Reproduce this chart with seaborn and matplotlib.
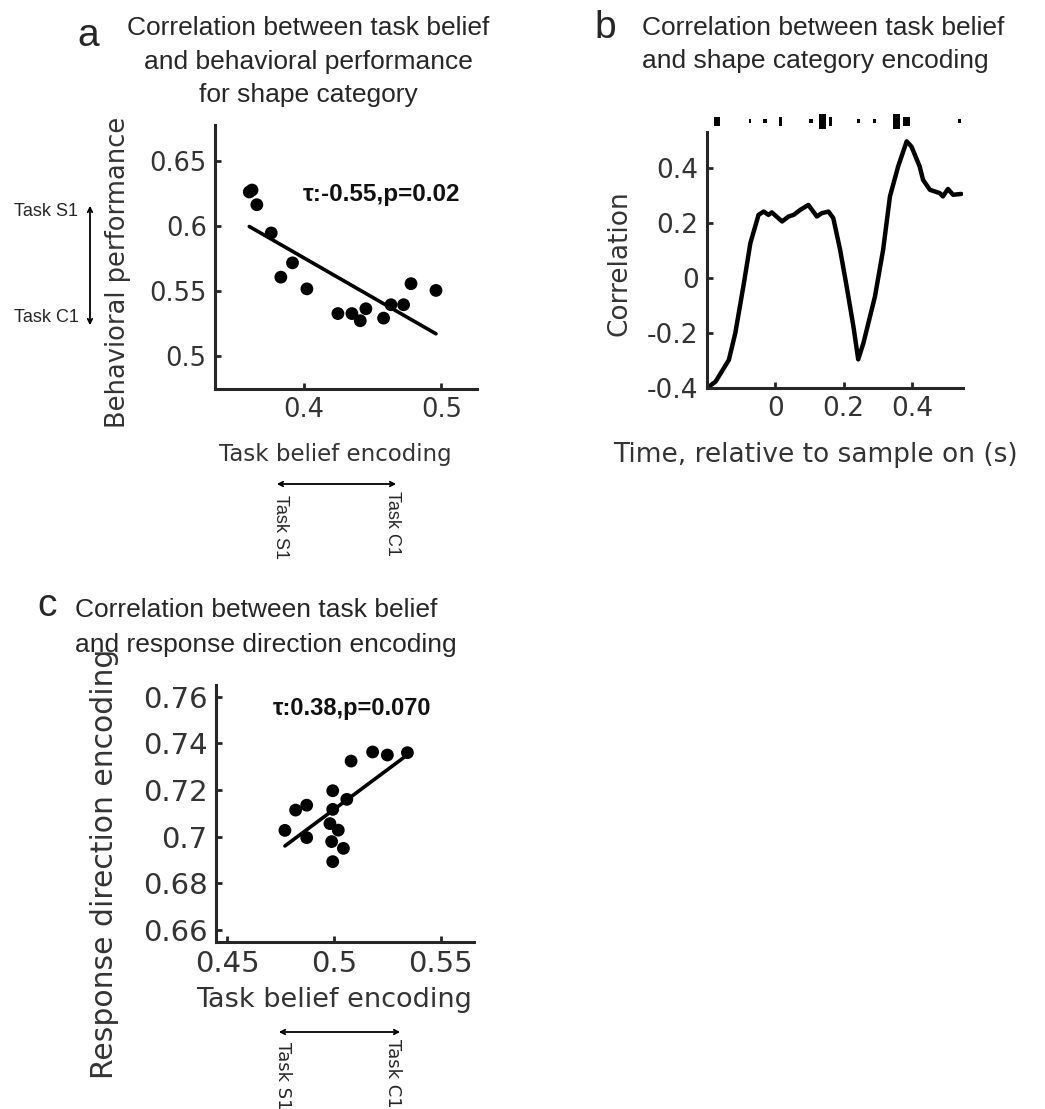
import numpy as np
import pandas as pd
import matplotlib
matplotlib.use("Agg")
import matplotlib.pyplot as plt
import seaborn as sns

# ---------------- data ----------------
# panel a
a_belief = [0.360, 0.362, 0.3655, 0.376, 0.383, 0.3915, 0.402, 0.4246,
            0.4348, 0.4409, 0.445, 0.4579, 0.4633, 0.4725, 0.4779, 0.4961]
a_perf = [0.6265, 0.628, 0.6167, 0.595, 0.561, 0.572, 0.552, 0.533,
          0.533, 0.5275, 0.5367, 0.5295, 0.5398, 0.5398, 0.556, 0.5508]
a_xticks = [0.4, 0.5]
a_xticklabels = ["0.4", "0.5"]
a_yticks = [0.5, 0.55, 0.6, 0.65]
a_yticklabels = ["0.5", "0.55", "0.6", "0.65"]
a_stat = "τ:-0.55,p=0.02"

# panel b
b_time = [-0.200, -0.175, -0.136, -0.117, -0.092, -0.073, -0.049, -0.034, -0.020,
          -0.010, 0.020, 0.039, 0.054, 0.073, 0.097, 0.122, 0.136, 0.156, 0.170,
          0.190, 0.209, 0.229, 0.243, 0.258, 0.292, 0.316, 0.336, 0.360, 0.385,
          0.399, 0.423, 0.433, 0.453, 0.482, 0.491, 0.506, 0.521, 0.545]
b_corr = [-0.400, -0.377, -0.298, -0.200, -0.020, 0.126, 0.229, 0.241, 0.229,
          0.238, 0.205, 0.223, 0.229, 0.247, 0.265, 0.223, 0.235, 0.241, 0.217,
          0.102, -0.030, -0.177, -0.296, -0.238, -0.068, 0.102, 0.296, 0.405, 0.496,
          0.477, 0.405, 0.356, 0.320, 0.308, 0.296, 0.323, 0.302, 0.305]
# significant windows (start, end, level)
sig_start = [-0.180, -0.077, -0.037, 0.012, 0.100, 0.128, 0.156, 0.238, 0.285, 0.345, 0.373, 0.535]
sig_end = [-0.161, -0.071, -0.024, 0.020, 0.110, 0.149, 0.166, 0.248, 0.295, 0.365, 0.396, 0.545]
sig_level = [2, 1, 1, 2, 1, 3, 2, 1, 1, 3, 2, 1]
b_xticks = [0, 0.2, 0.4]
b_xticklabels = ["0", "0.2", "0.4"]
b_yticks = [-0.4, -0.2, 0, 0.2, 0.4]
b_yticklabels = ["-0.4", "-0.2", "0", "0.2", "0.4"]

# panel c
c_belief = [0.4770, 0.482, 0.4872, 0.4872, 0.4994, 0.4994, 0.4981, 0.502,
            0.4989, 0.5044, 0.4994, 0.506, 0.508, 0.5181, 0.525, 0.5344]
c_resp = [0.7027, 0.7114, 0.7135, 0.6996, 0.7197, 0.7117, 0.7056, 0.7028,
          0.6979, 0.695, 0.6893, 0.716, 0.7324, 0.7363, 0.735, 0.736]
c_xticks = [0.45, 0.5, 0.55]
c_xticklabels = ["0.45", "0.5", "0.55"]
c_yticks = [0.66, 0.68, 0.70, 0.72, 0.74, 0.76]
c_yticklabels = ["0.66", "0.68", "0.7", "0.72", "0.74", "0.76"]
c_stat = "τ:0.38,p=0.070"

# ---------------- style ----------------
sns.set_style("ticks")
plt.rcParams['font.family'] = ['DejaVu Sans']
plt.rcParams['axes.unicode_minus'] = False
ARIAL = ['Liberation Sans', 'DejaVu Sans']
AX_COL = '#262626'
TXT_COL = '#333333'

W, H = 1045, 1109
fig = plt.figure(figsize=(W / 100, H / 100), dpi=100)


def axes_px(left, top, right, bottom):
    return fig.add_axes([left / W, 1 - bottom / H, (right - left) / W, (bottom - top) / H])


def fx(x):
    return x / W


def fy(y):
    return 1 - y / H


def style_axes(ax, tick_fs):
    for s in ['top', 'right']:
        ax.spines[s].set_visible(False)
    for s in ['left', 'bottom']:
        ax.spines[s].set_linewidth(2.2)
        ax.spines[s].set_color(AX_COL)
    ax.tick_params(direction='in', length=4, width=2, colors=AX_COL,
                   labelcolor=TXT_COL, labelsize=tick_fs, pad=6)


def place_labels(ax, xl, yl, xpos, ypos, fs_x, fs_y):
    ax.set_xlabel(xl, fontsize=fs_x, color=TXT_COL)
    ax.set_ylabel(yl, fontsize=fs_y, color=TXT_COL)
    ax.xaxis.set_label_coords(*xpos)
    ax.yaxis.set_label_coords(*ypos)
    ax.xaxis.label.set_verticalalignment('center')
    ax.yaxis.label.set_verticalalignment('center')


def arrow(p0, p1):
    fig.add_artist(matplotlib.patches.FancyArrowPatch(
        (fx(p0[0]), fy(p0[1])), (fx(p1[0]), fy(p1[1])),
        transform=fig.transFigure, arrowstyle='<->', mutation_scale=8,
        lw=1.3, color='black'))


# ---------------- panel a ----------------
axa = axes_px(215, 125, 477, 389)
dfa = pd.DataFrame({"belief": a_belief, "perf": a_perf})
sns.regplot(data=dfa, x="belief", y="perf", ax=axa, ci=None, color='black',
            scatter_kws=dict(s=85, edgecolor='none', alpha=1),
            line_kws=dict(lw=2.6, color='black'))
axa.set_xlim(0.335, 0.526)
axa.set_ylim(0.475, 0.678)
axa.set_xticks(a_xticks, a_xticklabels)
axa.set_yticks(a_yticks, a_yticklabels)
style_axes(axa, 18.5)
place_labels(axa, "Task belief encoding", "Behavioral performance",
             ((335 - 215) / 262, (389 - 455) / 264), ((118 - 215) / 262, (389 - 272) / 264),
             16.5, 18.5)
axa.text(0.637, 0.735, a_stat, transform=axa.transAxes, ha='center', va='center',
         fontsize=17.5, fontweight='bold', family=ARIAL, color='#111111')

fig.text(fx(88), fy(36), "a", fontsize=28, family=ARIAL, ha='center', va='center')
for i, line in enumerate(["Correlation between task belief",
                          "and behavioral performance",
                          "for shape category"]):
    fig.text(fx(308), fy(28 + 33.5 * i), line, fontsize=19, family=ARIAL,
             ha='center', va='center')

# side arrows panel a
fig.text(fx(46), fy(212), "Task S1", fontsize=13, family=ARIAL, ha='center', va='center')
fig.text(fx(46), fy(318), "Task C1", fontsize=13, family=ARIAL, ha='center', va='center')
arrow((90, 203), (90, 328))
arrow((274, 484), (399, 484))
fig.text(fx(281), fy(495), "Task S1", fontsize=13, family=ARIAL, rotation=-90,
         ha='center', va='top')
fig.text(fx(392), fy(491), "Task C1", fontsize=13, family=ARIAL, rotation=-90,
         ha='center', va='top')

# ---------------- panel b ----------------
axb = axes_px(707, 132, 963, 388)
dfb = pd.DataFrame({"time": b_time, "corr": b_corr})
sns.lineplot(data=dfb, x="time", y="corr", ax=axb, color='black', lw=3.2,
             solid_joinstyle='round', solid_capstyle='round')
axb.set_xlim(-0.2, 0.55)
axb.set_ylim(-0.4, 0.53)
axb.set_xticks(b_xticks, b_xticklabels)
axb.set_yticks(b_yticks, b_yticklabels)
style_axes(axb, 19)
place_labels(axb, "Time, relative to sample on (s)", "Correlation",
             ((815 - 707) / 256, (388 - 455) / 256), ((620 - 707) / 256, (388 - 263) / 256),
             19, 19)
level_h = {1: 0.015, 2: 0.033, 3: 0.055}
sig_y = 0.569
for s0, s1, lv in zip(sig_start, sig_end, sig_level):
    h = level_h[lv]
    axb.bar((s0 + s1) / 2, h, width=max(s1 - s0, 0.008), bottom=sig_y - h / 2,
            color='black', clip_on=False, linewidth=0)

fig.text(fx(605), fy(28), "b", fontsize=28, family=ARIAL, ha='center', va='center')
for i, line in enumerate(["Correlation between task belief",
                          "and shape category encoding"]):
    fig.text(fx(642), fy(28 + 33 * i), line, fontsize=19, family=ARIAL,
             ha='left', va='center')

# ---------------- panel c ----------------
axc = axes_px(216, 685, 474, 941.7)
dfc = pd.DataFrame({"belief": c_belief, "resp": c_resp})
sns.regplot(data=dfc, x="belief", y="resp", ax=axc, ci=None, color='black',
            scatter_kws=dict(s=85, edgecolor='none', alpha=1),
            line_kws=dict(lw=2.6, color='black'))
axc.set_xlim(0.4447, 0.5656)
axc.set_ylim(0.655, 0.765)
axc.set_xticks(c_xticks, c_xticklabels)
axc.set_yticks(c_yticks, c_yticklabels)
style_axes(axc, 21)
place_labels(axc, "Task belief encoding", "Response direction encoding",
             ((334 - 216) / 258, (941.7 - 1000) / 256.7), ((105 - 216) / 258, (941.7 - 864) / 256.7),
             19.5, 21.5)
axc.text(0.527, 0.910, c_stat, transform=axc.transAxes, ha='center', va='center',
         fontsize=17, fontweight='bold', family=ARIAL, color='#111111')

fig.text(fx(47), fy(606), "c", fontsize=28, family=ARIAL, ha='center', va='center')
for i, line in enumerate(["Correlation between task belief",
                          "and response direction encoding"]):
    fig.text(fx(75), fy(610 + 35 * i), line, fontsize=19, family=ARIAL,
             ha='left', va='center')

arrow((276, 1032), (403, 1032))
fig.text(fx(283), fy(1042), "Task S1", fontsize=13, rotation=-90, ha='center', va='top')
fig.text(fx(393), fy(1039), "Task C1", fontsize=13, rotation=-90, ha='center', va='top')

fig.savefig("out.png", dpi=100)
